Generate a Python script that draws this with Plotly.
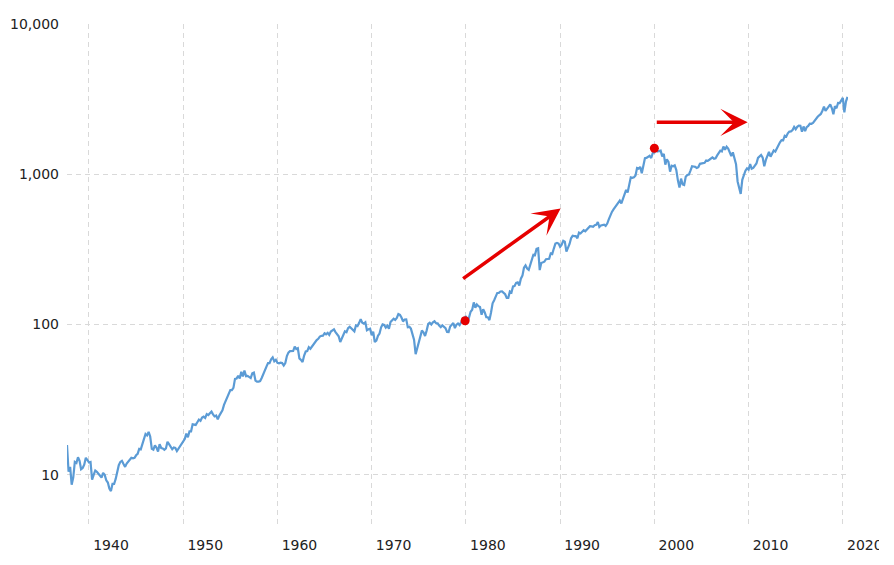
import math
import pandas as pd
import plotly.graph_objects as go

# S&P 500 closes read off the chart, sampled every other month
# (Jan, Mar, May, Jul, Sep, Nov), starting Sep 1937
close_1930s = [
    15.8, 10.5,
    11.3, 8.6, 9.6, 12.2, 12.0, 13.1,
    12.4, 10.9, 11.1, 11.7, 13.0, 12.5,
]
close_1940s = [
    12.1, 12.2, 9.3, 10.0, 10.7, 10.5,
    10.2, 10.0, 9.6, 10.3, 10.0, 9.2,
    8.9, 8.1, 7.8, 8.7, 8.7, 9.4,
    10.6, 11.6, 12.2, 12.4, 11.8, 11.3,
    11.9, 12.3, 12.8, 13.0, 12.9, 13.0,
    13.5, 13.8, 14.9, 14.8, 16.0, 17.2,
    18.7, 18.3, 19.3, 18.0, 14.9, 14.7,
    15.7, 15.2, 14.3, 16.0, 15.1, 15.0,
    14.7, 15.0, 16.6, 16.0, 15.5, 14.8,
    15.2, 15.1, 14.4, 15.0, 15.6, 16.0,
]
close_1950s = [
    17.0, 17.3, 18.8, 17.8, 19.5, 19.5,
    21.7, 21.5, 21.5, 22.4, 23.3, 22.9,
    24.1, 24.4, 23.9, 25.4, 25.0, 25.7,
    26.4, 25.3, 24.5, 24.8, 23.4, 24.8,
    26.1, 26.9, 29.2, 30.9, 32.3, 34.2,
    36.6, 36.6, 37.9, 43.5, 43.7, 45.7,
    43.8, 48.5, 45.2, 49.4, 45.4, 45.6,
    44.7, 44.1, 47.4, 47.9, 42.4, 41.7,
    41.7, 42.1, 44.1, 47.2, 50.1, 52.5,
    55.4, 55.4, 58.7, 60.5, 56.9, 58.3,
]
close_1960s = [
    55.6, 55.3, 55.8, 55.5, 53.5, 55.5,
    61.8, 65.1, 66.6, 66.8, 66.7, 71.3,
    68.8, 69.6, 59.6, 58.2, 56.3, 62.3,
    66.2, 66.6, 70.8, 69.1, 71.7, 73.2,
    77.0, 78.9, 80.4, 83.2, 84.2, 84.4,
    87.6, 86.2, 88.0, 85.3, 89.9, 91.6,
    92.9, 89.2, 86.1, 83.6, 76.6, 80.5,
    86.6, 90.2, 89.1, 94.8, 96.7, 94.0,
    92.2, 90.2, 98.7, 97.7, 102.7, 108.4,
    103.0, 101.5, 103.5, 91.8, 93.1, 93.8,
]
close_1970s = [
    85.0, 89.6, 76.6, 78.1, 84.2, 87.2,
    95.9, 100.3, 99.6, 95.6, 98.3, 94.0,
    103.9, 107.2, 109.5, 107.4, 110.6, 117.4,
    116.0, 111.5, 104.9, 108.2, 108.4, 96.0,
    96.6, 94.0, 87.3, 79.3, 63.5, 70.0,
    77.0, 83.4, 91.2, 88.8, 83.9, 91.2,
    100.9, 102.8, 100.2, 103.4, 105.2, 102.1,
    102.0, 98.4, 96.1, 98.9, 96.5, 94.8,
    89.3, 89.2, 97.2, 100.7, 102.5, 94.7,
    99.9, 101.6, 99.1, 103.8, 109.3, 106.2,
]
close_1980s = [
    114.2, 102.1, 111.2, 121.7, 125.5, 140.5,
    129.6, 136.0, 132.6, 131.0, 116.2, 126.4,
    120.4, 112.0, 111.9, 107.1, 120.4, 138.5,
    145.3, 153.0, 162.4, 162.6, 166.1, 166.4,
    163.4, 159.2, 150.6, 150.7, 166.1, 163.6,
    179.6, 180.7, 189.6, 190.9, 182.1, 202.2,
    211.8, 238.9, 247.4, 236.1, 231.3, 249.2,
    274.1, 291.7, 290.1, 318.7, 321.8, 230.3,
    257.1, 258.9, 262.2, 272.0, 271.9, 273.7,
    297.5, 294.9, 320.5, 346.1, 349.2, 346.0,
]
close_1990s = [
    329.1, 339.9, 361.2, 356.2, 306.1, 322.2,
    343.9, 375.2, 389.8, 387.8, 387.9, 375.2,
    408.8, 403.7, 415.4, 424.2, 417.8, 431.4,
    438.8, 451.7, 450.2, 448.1, 458.9, 461.8,
    481.6, 445.8, 456.5, 458.3, 462.7, 453.7,
    470.4, 500.7, 533.4, 562.1, 584.4, 605.4,
    636.0, 645.5, 669.1, 639.9, 687.3, 757.0,
    786.2, 757.1, 848.3, 954.3, 947.3, 955.4,
    980.3, 1101.8, 1090.8, 1120.7, 1017.0, 1163.6,
    1279.6, 1286.4, 1301.8, 1328.7, 1282.7, 1388.9,
]
close_2000s = [
    1394.5, 1498.6, 1420.6, 1430.8, 1436.5, 1315.2,
    1366.0, 1160.3, 1255.8, 1211.2, 1040.9, 1139.5,
    1130.2, 1147.4, 1067.1, 911.6, 815.3, 936.3,
    855.7, 848.2, 963.6, 990.3, 996.0, 1058.2,
    1131.1, 1126.2, 1120.7, 1101.7, 1114.6, 1173.8,
    1181.3, 1180.6, 1191.5, 1234.2, 1228.8, 1249.5,
    1280.1, 1294.9, 1270.1, 1276.7, 1335.9, 1400.6,
    1438.2, 1420.9, 1530.6, 1455.3, 1526.8, 1481.1,
    1378.6, 1322.7, 1400.4, 1267.4, 1166.4, 896.2,
    825.9, 740.0, 919.1, 987.5, 1057.1, 1095.6,
]
close_2010s = [
    1073.9, 1169.4, 1089.4, 1101.6, 1141.2, 1180.6,
    1286.1, 1325.8, 1345.2, 1292.3, 1131.4, 1247.0,
    1312.4, 1408.5, 1310.3, 1379.3, 1440.7, 1416.2,
    1498.1, 1569.2, 1630.7, 1685.7, 1681.6, 1805.8,
    1782.6, 1872.3, 1923.6, 1930.7, 1972.3, 2067.6,
    1995.0, 2067.9, 2107.4, 2103.8, 1920.0, 2080.4,
    1940.2, 2059.7, 2096.9, 2173.6, 2168.3, 2198.8,
    2278.9, 2362.7, 2411.8, 2470.3, 2519.4, 2647.6,
    2823.8, 2640.9, 2705.3, 2816.3, 2914.0, 2760.2,
    2510.0, 2834.4, 2752.1, 2980.4, 2976.7, 3141.0,
]
close_2020s = [3225.5, 2584.6, 3044.3, 3271.1]

close = (close_1930s + close_1940s + close_1950s + close_1960s + close_1970s
         + close_1980s + close_1990s + close_2000s + close_2010s + close_2020s)
dates = pd.date_range("1937-09-01", periods=len(close), freq="2MS")

# highlighted points
dot_dates = ["1979-12-01", "2000-01-01"]
dot_values = [106, 1490]

# red arrows: (tail date, tail value, head date, head value)
arrows = [
    ("1979-07-20", 199, "1990-01-20", 591),
    ("2000-02-05", 2218, "2009-11-25", 2218),
]

year_ticks = ["1940", "1950", "1960", "1970", "1980", "1990", "2000", "2010", "2020"]
value_ticks = [10, 100, 1000, 10000]
value_labels = ["10", "100", "1,000", "10,000"]

fig = go.Figure()
fig.add_trace(go.Scatter(x=dates, y=close, mode="lines",
                         line=dict(color="#5b9bd5", width=2.2), hoverinfo="skip"))
fig.add_trace(go.Scatter(x=dot_dates, y=dot_values, mode="markers",
                         marker=dict(color="#e60000", size=9), hoverinfo="skip"))

for x0, y0, x1, y1 in arrows:
    fig.add_annotation(x=x1, y=math.log10(y1), ax=x0, ay=math.log10(y0),
                       xref="x", yref="y", axref="x", ayref="y",
                       text="", showarrow=True, arrowhead=3, arrowsize=1.3,
                       arrowwidth=3.5, arrowcolor="#e60000")

grid = dict(showgrid=True, gridcolor="#d9d9d9", griddash="5px,4px", gridwidth=1,
            zeroline=False, showline=False, ticks="", automargin=False)

fig.update_xaxes(type="date", range=["1937-09-01", "2020-07-20"],
                 tickvals=[y + "-01-01" for y in year_ticks], ticktext=year_ticks,
                 ticklabelshift=22, ticklabelstandoff=8, ticklabeloverflow="allow",
                 **grid)
fig.update_yaxes(type="log", range=[math.log10(4.5), 4],
                 tickvals=value_ticks, ticktext=value_labels,
                 ticklabelstandoff=7, **grid)

# page body adds an 8px margin, so the figure is offset by that amount
fig.update_layout(
    width=871, height=557,
    margin=dict(l=59, r=31, t=16, b=38),
    paper_bgcolor="white", plot_bgcolor="white",
    showlegend=False,
    font=dict(family="DejaVu Sans", size=14, color="#222"),
)

fig.write_html("out.html")
